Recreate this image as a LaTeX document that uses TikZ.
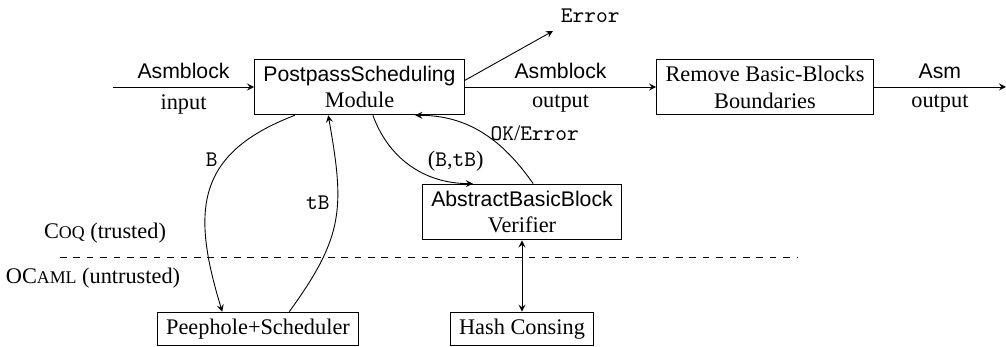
\documentclass[tikz,border=0pt]{standalone}
\usepackage{fontspec}
\setmainfont{Liberation Serif}
\setsansfont[Scale=0.95]{Liberation Sans}
\usepackage{tikz}
\usetikzlibrary{positioning}

\tikzset{
  block/.style={draw, align=center, inner xsep=4pt, inner ysep=3pt},
}

\begin{document}
\begin{tikzpicture}[x=0.01575cm, y=0.01575cm, >=stealth]
    \useasboundingbox (0,0) rectangle (1006,347);

    % Draw blocks
    \node[block] (pp) at (359.5,260) {\textsf{PostpassScheduling}\\Module};
    \node[block] (rm) at (765,260) {Remove Basic-Blocks\\Boundaries};
    \node[block] (abb) at (522,135) {\textsf{AbstractBasicBlock}\\Verifier};
    \node[block] (peep) at (258,18) {Peephole+Scheduler};
    \node[block] (hash) at (522,18) {Hash Consing};
    \node[anchor=south west] (err) at (553,316) {\texttt{Error}};

    % Free ends of the main chain
    \coordinate (in) at (113,260);
    \coordinate (out) at (1006,260);

    % Main chain
    \draw[->] (in) -- (pp.west) node[midway, above] {\textsf{Asmblock}} node[midway, below] {input};
    \draw[->] (pp.east) -- (rm.west) node[midway, above] {\textsf{Asmblock}} node[midway, below] {output};
    \draw[->] (rm.east) -- (out) node[midway, above] {\textsf{Asm}} node[midway, below] {output};
    \draw[->] ([yshift=3pt]pp.east) -- (err.south west);

    % Trusted / untrusted border
    \coordinate (bl) at (60,90);
    \coordinate (br) at (797,90);
    \draw[dashed] (bl) -- (br);
    \node (coq) at (105,114) {C{\footnotesize OQ} (trusted)};
    \node (ocaml) at (93,69) {OC{\footnotesize AML} (untrusted)};

    % Calls to the oracle and the checker
    \draw[->] ([xshift=-29pt]pp.south) to[out=201, in=107, looseness=1.3] node[pos=0.33, left] {\texttt{B}} ([xshift=-16pt]peep.north);
    \draw[->] ([xshift=14pt]peep.north) to[out=54, in=280, looseness=1.2] node[pos=0.6, left] {\texttt{tB}} ([xshift=-14pt]pp.south);
    \draw[->] ([xshift=6pt]pp.south) to[out=290, in=180] node[pos=0.63, above right, inner sep=1pt] {(\texttt{B},\texttt{tB})} ([xshift=-22pt]abb.north);
    \draw[->] ([xshift=5pt]abb.north) to[out=125, in=0] node[pos=0.5, right] {\texttt{OK}/\texttt{Error}} ([xshift=25pt]pp.south);
    \draw[<->] (abb.south) -- (hash.north);

\end{tikzpicture}
\end{document}
